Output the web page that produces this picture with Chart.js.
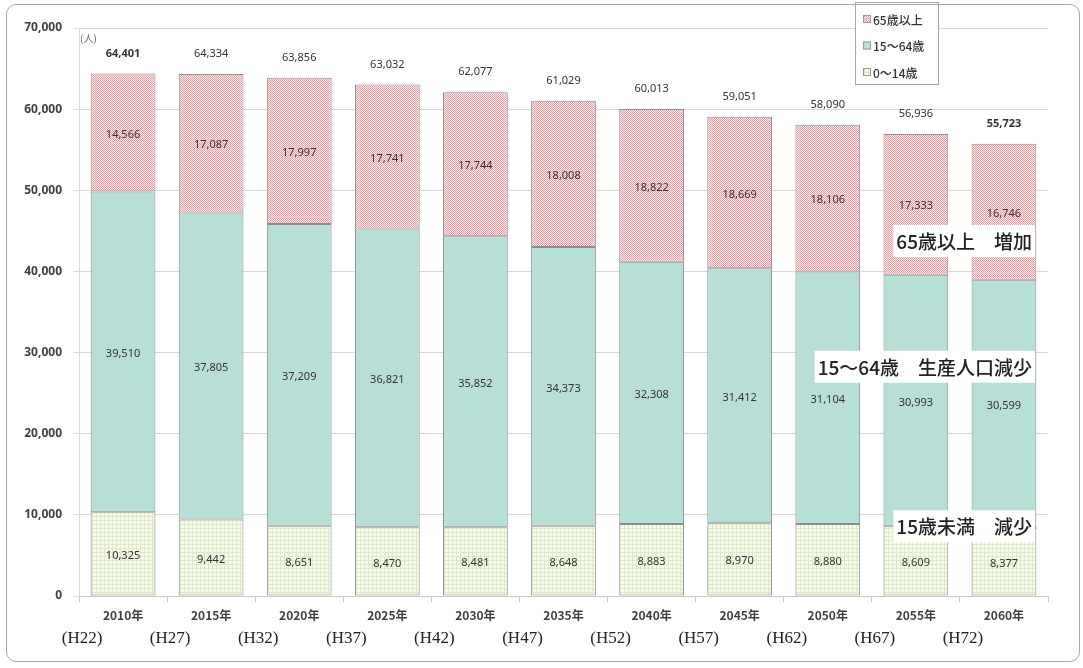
<!DOCTYPE html>
<html>
<head>
<meta charset="utf-8">
<script src="https://cdn.jsdelivr.net/npm/chart.js@4.4.1/dist/chart.umd.min.js"></script>
<style>
  body { margin: 0; background: #fff; }
  #wrap { position: relative; width: 1083px; height: 668px; }
  #frame {
    position: absolute; left: 6px; top: 4px; width: 1072px; height: 656px;
    border: 1.5px solid #a6a6a6; border-radius: 10px; pointer-events: none;
  }
</style>
</head>
<body>
<div id="wrap">
  <canvas id="popChart" width="1083" height="668"></canvas>
  <div id="frame"></div>
</div>
<script>
const years = ['2010年', '2015年', '2020年', '2025年', '2030年', '2035年', '2040年', '2045年', '2050年', '2055年', '2060年'];
const eras = ['(H22)', '(H27)', '(H32)', '(H37)', '(H42)', '(H47)', '(H52)', '(H57)', '(H62)', '(H67)', '(H72)'];
const age0to14 = [10325, 9442, 8651, 8470, 8481, 8648, 8883, 8970, 8880, 8609, 8377];
const age15to64 = [39510, 37805, 37209, 36821, 35852, 34373, 32308, 31412, 31104, 30993, 30599];
const age65plus = [14566, 17087, 17997, 17741, 17744, 18008, 18822, 18669, 18106, 17333, 16746];
const totals = [64401, 64334, 63856, 63032, 62077, 61029, 60013, 59051, 58090, 56936, 55723];
const boldTotals = [0, 10];
const seriesNames = ['0～14歳', '15～64歳', '65歳以上'];
const notes = [
    { text: '65歳以上　増加', value: 43750 },
    { text: '15～64歳　生産人口減少', value: 28250 },
    { text: '15歳未満　減少', value: 8600 }
];

const jp = '"Noto Sans CJK JP", "Noto Sans", sans-serif';

function makePattern(draw) {
    const c = document.createElement('canvas');
    c.width = 4; c.height = 4;
    const g = c.getContext('2d');
    draw(g);
    return document.getElementById('popChart').getContext('2d').createPattern(c, 'repeat');
}

const pinkPattern = makePattern(g => {
    g.fillStyle = '#fcecec';
    g.fillRect(0, 0, 4, 4);
    g.fillStyle = '#ee9aa1';
    for (let y = 0; y < 4; y++) {
        for (let x = 0; x < 4; x++) {
            if ((x + y) % 2 === 0) g.fillRect(x, y, 1, 1);
        }
    }
});
const yellowPattern = makePattern(g => {
    g.fillStyle = '#f6fae8';
    g.fillRect(0, 0, 4, 4);
    g.fillStyle = '#dde9c8';
    g.fillRect(0, 0, 4, 1);
    g.fillRect(0, 0, 1, 4);
});
const tealColor = '#b7dfd5';
const fills = [yellowPattern, tealColor, pinkPattern];

const labelPlugin = {
    id: 'labelPlugin',
    afterDatasetsDraw(chart) {
        const ctx = chart.ctx;
        const area = chart.chartArea;
        const yScale = chart.scales.y;
        ctx.save();

        // callout boxes
        ctx.font = '500 19px ' + jp;
        ctx.textBaseline = 'middle';
        ctx.textAlign = 'left';
        notes.forEach(n => {
            const w = ctx.measureText(n.text).width;
            const cy = yScale.getPixelForValue(n.value);
            const x1 = area.right - 13;
            const x0 = x1 - w - 6;
            ctx.fillStyle = '#ffffff';
            ctx.fillRect(x0, cy - 16, x1 - x0, 32);
            ctx.fillStyle = '#222';
            ctx.fillText(n.text, x0 + 3, cy + 1);
        });

        // segment values
        ctx.font = '11px "Noto Sans", sans-serif';
        ctx.textAlign = 'center';
        ctx.fillStyle = '#333';
        chart.data.datasets.forEach((ds, di) => {
            chart.getDatasetMeta(di).data.forEach((bar, i) => {
                const cy = (bar.y + bar.base) / 2;
                ctx.fillText(ds.data[i].toLocaleString('en-US'), bar.x, cy + 2);
            });
        });

        // totals
        const top = chart.getDatasetMeta(2).data;
        totals.forEach((t, i) => {
            ctx.font = (boldTotals.includes(i) ? 'bold ' : '') + '11px "Noto Sans", sans-serif';
            ctx.fillText(t.toLocaleString('en-US'), top[i].x, top[i].y - 20);
        });

        // unit
        ctx.font = '10px ' + jp;
        ctx.textAlign = 'left';
        ctx.fillStyle = '#666';
        ctx.fillText('(人)', area.left + 1, area.top + 10);

        // era labels
        ctx.font = '17px "Liberation Serif", "DejaVu Serif", serif';
        ctx.textAlign = 'center';
        ctx.fillStyle = '#222';
        eras.forEach((e, i) => {
            ctx.fillText(e, chart.scales.x.getPixelForValue(i) - 41, area.bottom + 43);
        });

        // legend
        const lx = 855, ly = 2, lw = 83, lh = 82;
        ctx.fillStyle = '#fff';
        ctx.fillRect(lx, ly, lw, lh);
        ctx.strokeStyle = '#a6a6a6';
        ctx.lineWidth = 1;
        ctx.strokeRect(lx + 0.5, ly + 0.5, lw, lh);
        ctx.font = '500 12px ' + jp;
        ctx.textAlign = 'left';
        [2, 1, 0].forEach((di, k) => {
            const y = 19 + k * 26.5;
            ctx.fillStyle = fills[di];
            ctx.fillRect(lx + 8, y - 4, 8, 8);
            ctx.strokeStyle = '#999';
            ctx.strokeRect(lx + 8.5, y - 3.5, 7, 7);
            ctx.fillStyle = '#333';
            ctx.fillText(seriesNames[di], lx + 18, y + 1);
        });
        ctx.restore();
    }
};

new Chart(document.getElementById('popChart'), {
    type: 'bar',
    data: {
        labels: years,
        datasets: [
            { label: seriesNames[0], data: age0to14, backgroundColor: yellowPattern },
            { label: seriesNames[1], data: age15to64, backgroundColor: tealColor },
            { label: seriesNames[2], data: age65plus, backgroundColor: pinkPattern }
        ].map(d => Object.assign(d, {
            borderColor: '#8c8c8c',
            borderWidth: 1,
            borderSkipped: false,
            categoryPercentage: 1,
            barPercentage: 0.735
        }))
    },
    options: {
        responsive: false,
        animation: false,
        layout: { padding: { left: 0, top: 28, right: 35, bottom: 0 } },
        plugins: { legend: { display: false }, tooltip: { enabled: false } },
        scales: {
            x: {
                stacked: true,
                grid: { offset: true, drawOnChartArea: false, tickLength: 6, color: '#c8c8c8' },
                border: { color: '#c8c8c8' },
                ticks: { font: { size: 12, weight: 'bold', family: jp }, color: '#404040', padding: 6 },
                afterFit(s) { s.height = 72; }
            },
            y: {
                stacked: true,
                min: 0,
                max: 70000,
                grid: { color: '#d9d9d9', tickLength: 5 },
                border: { color: '#d9d9d9' },
                ticks: {
                    stepSize: 10000,
                    padding: 12,
                    color: '#404040',
                    font: { size: 12, weight: 'bold', family: '"Noto Sans", sans-serif' },
                    callback: v => v.toLocaleString('en-US')
                },
                afterFit(s) { s.width = 79; }
            }
        }
    },
    plugins: [labelPlugin]
});
</script>
</body>
</html>
